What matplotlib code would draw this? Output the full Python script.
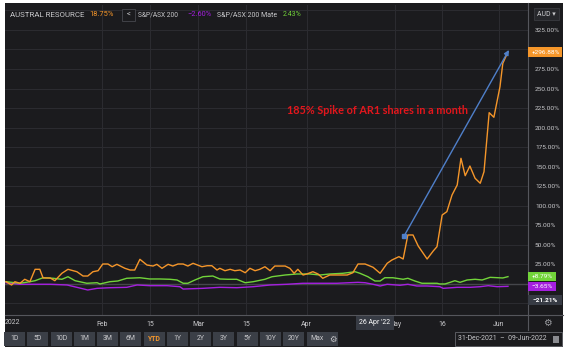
import matplotlib
matplotlib.use('Agg')
import matplotlib.pyplot as plt
import numpy as np
from matplotlib.patches import Rectangle
from matplotlib.lines import Line2D
from matplotlib import font_manager as fm
from matplotlib.ticker import FuncFormatter
from matplotlib.transforms import Bbox

# ---------------- data (x = trading-day index from 31-Dec-2021) ----------------
orange_x = [0, 1.2, 1.9, 3.0, 4.0, 5.1, 6.2, 7.2, 7.9, 9.4, 10.4, 11.9, 13.2, 15.1, 16.4, 17.4,
            18.5, 19.6, 20.6, 21.7, 22.6, 23.6, 25.3, 26.4, 27.4, 28.5, 30.0, 31.3, 32.1, 33.2,
            34.5, 35.5, 36.6, 37.7, 38.7, 39.8, 41.7, 42.8, 43.8, 44.9, 45.5, 46.6, 47.7, 48.7,
            49.8, 50.9, 51.9, 53.0, 54.0, 55.1, 56.2, 57.2, 59.4, 60.4, 61.3, 62.1, 63.2, 64.0,
            65.3, 66.4, 67.4, 68.9, 72.6, 73.8, 74.9, 76.4, 78.1, 79.6, 81.1, 82.1, 83.6, 84.5,
            85.5, 86.6, 87.7, 89.6, 90.9, 91.7, 92.8, 93.8, 94.9, 96.0, 96.8, 97.7, 98.7, 99.8,
            100.9, 101.7, 102.8, 103.8, 105.1, 105.7, 106.8]
orange_y = [2.3, -1.9, 2.3, 0.3, 5.4, 2.3, 18.2, 18.2, 7.1, 7.1, 3.6, 13.1, 18.2, 15.1, 9.6, 9.6,
            15.1, 16.4, 25.0, 25.0, 21.5, 24.6, 19.5, 17.3, 17.3, 31.0, 23.7, 22.4, 24.6, 19.5,
            24.6, 22.4, 25.0, 25.0, 22.4, 25.9, 21.5, 22.8, 22.8, 17.3, 19.5, 16.4, 18.2, 16.4,
            17.3, 13.8, 19.5, 16.4, 18.2, 21.5, 16.4, 22.4, 22.4, 19.5, 13.1, 18.2, 10.9, 12.2,
            15.1, 12.2, 6.7, 10.9, 10.9, 13.8, 25.0, 25.0, 20.8, 13.1, 25.9, 30.1, 34.4, 31.4,
            62.2, 62.2, 48.1, 31.4, 41.7, 47.2, 87.8, 92.1, 113.5, 126.3, 160.5, 138.2, 150.6, 134.9,
            128.5, 143.3, 219.0, 213.1, 252.3, 282.3, 296.88]

green_x = [0, 3.0, 5.1, 6.2, 7.9, 10.0, 11.9, 13.2, 14.7, 17.2, 19.4, 20.0, 22.1, 23.8, 25.7,
           28.5, 30.6, 32.8, 34.9, 36.4, 37.7, 38.7, 40.2, 41.9, 44.0, 45.5, 47.2, 49.1, 50.9,
           52.6, 55.1, 56.6, 59.4, 61.9, 64.7, 66.8, 68.9, 71.7, 74.3, 75.3, 77.0, 78.5, 79.6,
           80.6, 82.3, 84.5, 85.5, 87.0, 88.5, 90.2, 91.7, 92.3, 93.4, 94.5, 95.5, 96.6, 98.1,
           99.8, 101.3, 103.0, 105.7, 106.8]
green_y = [2.3, 0.3, 2.3, 3.6, 7.4, 6.7, 5.4, 8.7, 3.6, 0.3, 1.0, -0.6, 2.3, 3.2, 6.7,
           7.4, 5.8, 5.8, 5.4, 4.5, 0.3, 0.3, 4.5, 8.7, 9.6, 5.8, 5.4, 5.4, 1.0,
           2.3, 5.4, 8.7, 10.9, 12.2, 12.2, 10.9, 12.2, 13.1, 15.1, 13.1, 8.7, 3.2, 3.2,
           7.4, 7.4, 5.4, 6.7, 3.2, 0.3, 0.3, 0.3, -0.6, -0.6, 1.5, 3.6, 1.5, 4.5,
           5.4, 4.5, 7.9, 7.1, 8.79]

purple_x = [0, 3.0, 9.4, 13.0, 15.1, 17.4, 19.4, 22.1, 25.7, 27.9, 30.6, 34.3, 37.0, 37.7,
            41.9, 45.5, 49.1, 52.6, 56.2, 59.8, 63.2, 70.4, 74.9, 76.4, 78.1, 79.6, 81.1,
            83.8, 85.5, 87.4, 89.6, 92.3, 93.0, 96.0, 98.7, 100.9, 102.6, 104.5, 106.8]
purple_y = [1.0, -1.0, -1.0, -1.9, -4.9, -8.3, -6.2, -5.4, -4.9, -1.9, -2.8, -2.8, -4.1, -7.1,
            -6.2, -4.9, -5.4, -4.1, -1.9, -1.0, 0.3, 0.3, 1.5, 1.0, -1.0, -3.2, -1.0,
            -2.3, -1.0, -3.2, -3.2, -4.1, -6.2, -4.9, -4.9, -4.1, -2.8, -4.1, -3.65]

series_names = ['AUSTRAL RESOURCE', 'S&P/ASX 200', 'S&P/ASX 200 Mate']
legend_values = ['18.75%', '\u22122.60%', '2.43%']
last_labels = ['+296.88%', '+8.79%', '\u22123.65%']
last_values = [296.88, 8.79, -3.65]
cross_value = -21.21
cross_label = '\u221221.21%'
cross_date_x = 78.5
cross_date_label = "26 Apr '22"

tick_pos = [20.4, 30.6, 40.9, 51.1, 64.0, 82.8, 92.8, 104.9]
tick_labels = ['Feb', '15', 'Mar', '15', 'Apr', 'May', '16', 'Jun']
y_ticks = list(range(-25, 351, 25))

arrow_start = (84.7, 60.9)
arrow_end = (107.0, 299.4)
annotation = '185% Spike of AR1 shares in a month'
annotation_pos = (59.8, 222.4)

buttons = ['1D', '5D', '10D', '1M', '3M', '6M', 'YTD', '1Y', '2Y', '3Y', '5Y', '10Y', '20Y', 'Max']
date_range = '31-Dec-2021  \u2013  09-Jun-2022'

# ---------------- style ----------------
W, H, DPI = 567, 352, 100
BG = '#1b1b1e'
GRID = '#2b2b30'
TXT = '#c9c9cc'
ORANGE = '#f5962a'
GREEN = '#72d43a'
PURPLE = '#a51fe0'
SEP = '#55565c'

names = {f.name for f in fm.fontManager.ttflist}
if 'Liberation Sans Narrow' in names:
    NARROW = 'Liberation Sans Narrow'
    K = 1.0
else:
    NARROW = 'Roboto'
    K = 0.85
FAM = [NARROW, 'DejaVu Sans']

fig = plt.figure(figsize=(W / DPI, H / DPI), dpi=DPI, facecolor='white')
renderer = fig.canvas.get_renderer()


def fx(x):
    return x / W


def fy(y):
    return 1 - y / H


def rect(x0, y0, x1, y1, fc, ec='none', lw=0.6, z=5):
    fig.patches.append(Rectangle((fx(x0), fy(y1)), (x1 - x0) / W, (y1 - y0) / H,
                                 transform=fig.transFigure, facecolor=fc,
                                 edgecolor=ec, linewidth=lw, zorder=z))


def txt(x, y, s, color=TXT, size=6.0, ha='left', weight='normal', family=None, z=6):
    return fig.text(fx(x), fy(y), s, color=color,
                    fontsize=size * K if family is None else size,
                    ha=ha, va='center', weight=weight, family=family or FAM, zorder=z)


def fit_txt(x0, x1, y, s, color=TXT, size=6.5, maxsize=7.2):
    """Left-aligned text whose size is scaled so it spans x0..x1 pixels."""
    t = txt(x0, y, s, color, size)
    w = t.get_window_extent(renderer).width
    if w > 0:
        t.set_fontsize(min(maxsize, t.get_fontsize() * (x1 - x0) / w))
    return t


def hline(x0, x1, y, color=SEP, lw=0.8, z=4):
    fig.lines.append(Line2D([fx(x0), fx(x1)], [fy(y), fy(y)], transform=fig.transFigure,
                            color=color, lw=lw, zorder=z))


def vline(x, y0, y1, color=SEP, lw=0.8, z=4):
    fig.lines.append(Line2D([fx(x), fx(x)], [fy(y0), fy(y1)], transform=fig.transFigure,
                            color=color, lw=lw, zorder=z))


# dark panel
rect(5, 3, 563, 347, BG, z=-1)

# main axes
ax = fig.add_axes([fx(5), fy(315), 523 / W, 310 / H])
ax.set_facecolor(BG)
ax.set_xlim(-0.2, 111.06)
ax.set_ylim(-40.38, 357.05)
for s in ax.spines.values():
    s.set_visible(False)

ax.set_yticks(y_ticks)
ax.yaxis.tick_right()
# the 300% label sits behind the last-value box of the orange series
ax.yaxis.set_major_formatter(FuncFormatter(
    lambda v, p: f'{v:.2f}%' if (0 < v < 350 and v != 300) else ''))
ax.tick_params(axis='y', length=0, pad=5, labelsize=5.5 * K, labelcolor=TXT)
ax.set_xticks(tick_pos, tick_labels)
ax.tick_params(axis='x', length=0, pad=4.5, labelsize=5.8 * K, labelcolor=TXT)
for lab in ax.get_xticklabels() + ax.get_yticklabels():
    lab.set_family(FAM)
ax.grid(True, color=GRID, lw=0.8)
ax.set_axisbelow(True)
ax.axhline(0, color='#45464b', lw=1.0, zorder=1)

ax.plot(purple_x, purple_y, color=PURPLE, lw=1.0, zorder=3)
ax.plot(green_x, green_y, color=GREEN, lw=1.0, zorder=3)
ax.plot(orange_x, orange_y, color=ORANGE, lw=1.0, zorder=4)

# annotation arrow and text
ax.annotate('', xy=arrow_end, xytext=arrow_start,
            arrowprops=dict(arrowstyle='-|>', color='#4f7fc9', lw=1.0,
                            mutation_scale=7, shrinkA=0, shrinkB=0), zorder=5)
ax.plot([arrow_start[0]], [arrow_start[1]], marker='s', ms=2.5, color='#4f7fc9', zorder=5)
ax.text(annotation_pos[0], annotation_pos[1], annotation, color='#e3161c',
        fontsize=7.8, weight='bold', family=['Lato', 'DejaVu Sans'], ha='left', va='center',
        zorder=6)

# separators
vline(528, 3, 330)
hline(5, 563, 315)

# legend row (pixel spans)
colors = [ORANGE, PURPLE, GREEN]
name_span = [(10, 85), (138, 178), (217, 277)]
val_span = [(89, 113), (187, 211), (283, 302)]
for nm, val, c, ns, vs in zip(series_names, legend_values, colors, name_span, val_span):
    fit_txt(ns[0], ns[1], 15, nm, TXT)
    fit_txt(vs[0], vs[1], 15, val, c)
rect(122, 9, 135, 21, BG, ec='#414248', lw=0.7)
txt(128.5, 15, '<', TXT, 6.5, ha='center')

# AUD selector
rect(534, 8, 559, 20, '#26272b', ec='#3a3b40', lw=0.6)
txt(546.5, 14, 'AUD \u25be', TXT, 5.8, ha='center')

# last value boxes on the right axis
box_colors = [ORANGE, GREEN, PURPLE]
box_right = [562, 556, 556]
for lab, v, c, xr in zip(last_labels, last_values, box_colors, box_right):
    ypx = H - ax.transData.transform((0, v))[1]
    rect(528, ypx - 4.6, xr, ypx + 4.6, c)
    txt((528 + xr) / 2 + 0.5, ypx, lab, 'white', 5.5, ha='center')

ypx = H - ax.transData.transform((0, cross_value))[1]
rect(528, ypx - 4.6, 562, ypx + 4.6, '#373b44')
txt(545.5, ypx, cross_label, 'white', 5.5, ha='center', weight='bold')

# crosshair date label (hides the start of the "May" tick label, as in the reference)
cx = ax.transData.transform((cross_date_x, 0))[0]
rect(cx - 19, 316, cx + 19, 330, '#373b44')
txt(cx, 323, cross_date_label, 'white', 5.8, ha='center')
for lab in ax.get_xticklabels():
    if lab.get_text() == 'May':
        lab.set_clip_box(Bbox([[cx + 19, 0], [W, H]]))
        lab.set_clip_on(True)

# year label and gear icon
txt(5, 323, '2022', TXT, 5.8)
txt(547, 323, '\u2699', '#9a9ba0', 7.0, ha='center', family=['DejaVu Sans'])

# button row
for i, b in enumerate(buttons):
    cxb = 14.5 + i * 23.27
    w = 10.5
    rect(cxb - w, 332, cxb + w, 346, '#3b3f47', z=5)
    txt(cxb, 339, b, ORANGE if b == 'YTD' else TXT, 5.8, ha='center',
        weight='bold' if b == 'YTD' else 'normal')
rect(328, 332, 338, 346, '#3b3f47', z=5)
txt(333, 339, '\u2699', '#c9c9cc', 6.0, ha='center', family=['DejaVu Sans'])

# date range box
rect(455, 332, 562, 346, BG, ec='#5a5b61', lw=0.7)
txt(502, 339, date_range, TXT, 5.8, ha='center')
rect(553, 335.5, 559, 342.5, '#8a8b90', z=6)

fig.savefig('out.png', dpi=DPI, facecolor='white')
